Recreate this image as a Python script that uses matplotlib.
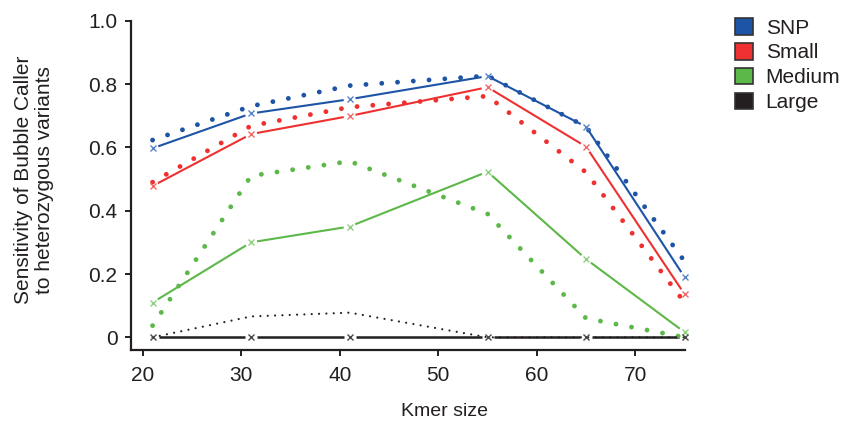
import numpy as np
import matplotlib
matplotlib.use("Agg")
import matplotlib.pyplot as plt
from matplotlib.patches import Patch

plt.rcParams['font.family'] = ['Liberation Sans', 'DejaVu Sans']

# kmer sizes tested
kmer = [21, 31, 41, 55, 65, 75]

# solid lines (with x markers)
snp_solid = [0.597, 0.707, 0.752, 0.825, 0.665, 0.19]
small_solid = [0.478, 0.642, 0.699, 0.79, 0.602, 0.136]
medium_solid = [0.11, 0.30, 0.35, 0.523, 0.247, 0.016]
large_solid = [0, 0, 0, 0, 0, 0]

# dotted lines
snp_dotted = [0.623, 0.730, 0.795, 0.826, 0.665, 0.24]
small_dotted = [0.49, 0.668, 0.727, 0.762, 0.521, 0.11]
medium_dotted = [0.037, 0.51, 0.556, 0.39, 0.06, 0.0]
large_dotted = [0, 0.066, 0.078, 0, 0, 0]

labels = ['SNP', 'Small', 'Medium', 'Large']
colors = ['#1d54a6', '#ee3130', '#5cb848', '#231f20']
light = ['#5b84c8', '#f26b6b', '#8fd07f', '#4a4a4a']
ink = '#231f20'

W, H = 845, 428
fig = plt.figure(figsize=(W / 100, H / 100), dpi=100)
ax = fig.add_axes([130.7 / W, 78 / H, (684.6 - 130.7) / W, (350 - 20.7) / H])
ax.set_xlim(18.78, 75)
ax.set_ylim(-0.04, 1.0)


def gapped_line(ax, x, y, color, lw, gap=6.0):
    # draw segments stopping a few pixels short of each marker
    tr = ax.transData
    inv = tr.inverted()
    for i in range(len(x) - 1):
        p0 = tr.transform((x[i], y[i]))
        p1 = tr.transform((x[i + 1], y[i + 1]))
        d = p1 - p0
        u = d / np.hypot(*d)
        q = inv.transform(np.array([p0 + u * gap, p1 - u * gap]))
        ax.plot(q[:, 0], q[:, 1], color=color, lw=lw, solid_capstyle='butt',
                zorder=2, clip_on=False)


solids = [snp_solid, small_solid, medium_solid, large_solid]
dotteds = [snp_dotted, small_dotted, medium_dotted, large_dotted]

for i in range(4):
    lw = 1.5 if i < 3 else 1.8
    gapped_line(ax, kmer, solids[i], colors[i], lw)

for i in range(4):
    if i < 3:
        ax.plot(kmer, dotteds[i], color=colors[i], lw=3.5,
                linestyle=(0, (0.001, 3.25)), dash_capstyle='round',
                zorder=3, clip_on=False)
    else:
        ax.plot(kmer, dotteds[i], color=colors[i], lw=1.6,
                linestyle=(0, (0.001, 3.3)), dash_capstyle='round',
                zorder=3, clip_on=False)

for i in range(4):
    ax.plot(kmer, solids[i], linestyle='none', marker='x', ms=3.8, mew=1.0,
            color=light[i], zorder=4, clip_on=False)

for s in ['top', 'right']:
    ax.spines[s].set_visible(False)
for s in ['left', 'bottom']:
    ax.spines[s].set_linewidth(1.6)
    ax.spines[s].set_color(ink)

ax.set_xticks([20, 30, 40, 50, 60, 70])
ax.set_yticks([0, 0.2, 0.4, 0.6, 0.8, 1.0])
ax.set_yticklabels(['0', '0.2', '0.4', '0.6', '0.8', '1.0'])
ax.tick_params(direction='out', length=4.5, width=1.4, color=ink,
               labelcolor=ink, labelsize=15)
ax.tick_params(axis='y', pad=5)
ax.tick_params(axis='x', pad=7)

fig.text(445 / W, 1 - 411 / H, 'Kmer size', ha='center', va='center',
         fontsize=14, color=ink)
fig.text(34 / W, 1 - 180 / H, 'Sensitivity of Bubble Caller\nto heterozygous variants',
         rotation=90, ha='center', va='center', multialignment='center',
         fontsize=15, color=ink, linespacing=1.15)

handles = [Patch(facecolor=c, edgecolor='#333333', lw=1.2) for c in colors]
fig.legend(handles, labels, loc='upper left',
           bbox_to_anchor=(735 / W, 1 - 18 / H), frameon=False,
           borderpad=0, borderaxespad=0, handlelength=0.85, handleheight=0.85,
           handletextpad=0.62, labelspacing=0.26, fontsize=15,
           labelcolor=ink)

fig.savefig('out.png', dpi=100)
